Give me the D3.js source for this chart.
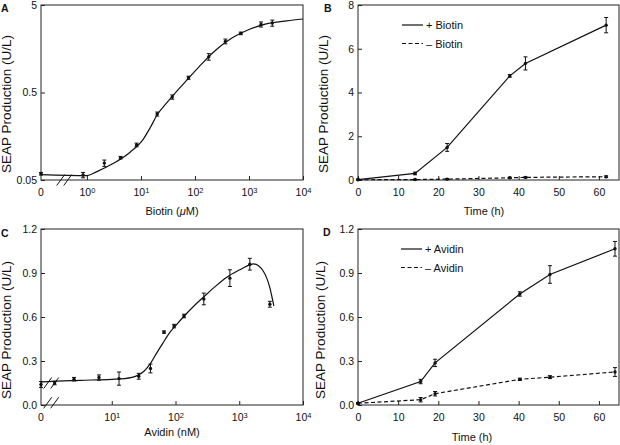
<!DOCTYPE html>
<html><head><meta charset="utf-8">
<script src="https://cdn.jsdelivr.net/npm/d3@7"></script>
<style>
body{margin:0;background:#fff}
svg{display:block}
text{font-family:"Liberation Sans",Arial,sans-serif;fill:#111}
</style>
</head><body>
<svg id="c" width="620" height="445"></svg>
<script>
// ---------- Panel A: SEAP vs biotin (log-log) ----------
const biotinConc   = [0, 0.85, 2.1, 4.2, 8.3, 20, 38, 76, 180, 366, 705, 1670, 2700];
const seapBiotin   = [0.059, 0.057, 0.078, 0.09, 0.126, 0.284, 0.444, 0.738, 1.28, 1.92, 2.37, 3.0, 3.11];
const seapBiotinErr= [0.002, 0.004, 0.0065, 0.003, 0.006, 0.015, 0.025, 0.03, 0.11, 0.12, 0.08, 0.2, 0.25];
const fitBiotinConc= [0, 1, 1.5, 3.1, 6.3, 11, 15, 20, 30, 60, 120, 250, 500, 1000, 2000, 5000, 10000];
const fitBiotinSeap= [0.0575, 0.056, 0.062, 0.0775, 0.104, 0.146, 0.2, 0.278, 0.38, 0.62, 0.99, 1.55, 2.12, 2.62, 3.02, 3.3, 3.46];
const ticksA_x = [1, 10, 100, 1000, 10000];
const ticksA_y = [0.05, 0.5, 5];

// ---------- Panel B: SEAP vs time, +/- biotin ----------
const timeB          = [0, 14.2, 22.2, 37.8, 41.7, 61.8];
const plusBiotin     = [0.02, 0.30, 1.49, 4.76, 5.33, 7.08];
const plusBiotinErr  = [0.02, 0.06, 0.18, 0.06, 0.30, 0.35];
const minusBiotin    = [0.01, 0.02, 0.04, 0.10, 0.12, 0.15];
const minusBiotinErr = [0.01, 0.02, 0.02, 0.03, 0.03, 0.04];
const ticksB_x = [0, 10, 20, 30, 40, 50, 60];
const ticksB_y = [0, 2, 4, 6, 8];

// ---------- Panel C: SEAP vs avidin ----------
const avidinConc   = [0, 1.27, 2.56, 6.3, 13, 26.5, 40.5, 66, 95, 136, 278, 713, 1466, 3020];
const seapAvidin   = [0.14, 0.15, 0.176, 0.187, 0.18, 0.196, 0.249, 0.497, 0.538, 0.607, 0.723, 0.865, 0.96, 0.687];
const seapAvidinErr= [0.02, 0.012, 0.012, 0.018, 0.045, 0.02, 0.03, 0.008, 0.012, 0.012, 0.04, 0.057, 0.04, 0.02];
const fitAvidinConc= [0, 1, 3.16, 10, 16, 25, 32, 40, 50, 63, 80, 100, 136, 200, 282, 400, 630, 1000, 1466, 1660, 2000, 2400, 2700, 3020, 3210, 3490];
const fitAvidinSeap= [0.157, 0.16, 0.168, 0.175, 0.18, 0.2, 0.23, 0.28, 0.35, 0.42, 0.49, 0.54, 0.605, 0.68, 0.74, 0.8, 0.87, 0.92, 0.955, 0.962, 0.95, 0.91, 0.865, 0.8, 0.75, 0.675];
const ticksC_x = [10, 100, 1000, 10000];
const ticksC_y = [0, 0.3, 0.6, 0.9, 1.2];

// ---------- Panel D: SEAP vs time, +/- avidin ----------
const timeD          = [0, 15.6, 19.2, 40.3, 47.8, 64];
const plusAvidin     = [0.012, 0.16, 0.287, 0.757, 0.89, 1.065];
const plusAvidinErr  = [0.005, 0.015, 0.025, 0.015, 0.06, 0.05];
const minusAvidin    = [0.012, 0.036, 0.077, 0.175, 0.19, 0.225];
const minusAvidinErr = [0.005, 0.015, 0.015, 0.008, 0.01, 0.03];
const ticksD_x = [0, 10, 20, 30, 40, 50, 60];
const ticksD_y = [0, 0.3, 0.6, 0.9, 1.2];

// ---------- layout ----------
const boxA = {l:41, r:303, t:5,   b:180};
const boxB = {l:358,r:619, t:5,   b:180};
const boxC = {l:41, r:303, t:229, b:405};
const boxD = {l:358,r:619, t:229, b:405};

const svg = d3.select('#c');
const INK = '#111';

const xA = d3.scaleLog().domain([Math.pow(10,-0.85), 1e4]).range([boxA.l, boxA.r]);
const yA = d3.scaleLog().domain([0.05, 5]).range([boxA.b, boxA.t]);
const xB = d3.scaleLinear().domain([0, 65]).range([boxB.l, boxB.r]);
const yB = d3.scaleLinear().domain([0, 8]).range([boxB.b, boxB.t]);
const xC = d3.scaleLog().domain([Math.pow(10,-0.11), 1e4]).range([boxC.l, boxC.r]);
const yC = d3.scaleLinear().domain([0, 1.2]).range([boxC.b, boxC.t]);
const xD = d3.scaleLinear().domain([0, 65]).range([boxD.l, boxD.r]);
const yD = d3.scaleLinear().domain([0, 1.2]).range([boxD.b, boxD.t]);

// map 0 onto the left edge of a broken log axis
const zx = s => v => v === 0 ? s.range()[0] : s(v);

function frame(box){
  svg.append('rect').attr('x',box.l).attr('y',box.t)
    .attr('width',box.r-box.l).attr('height',box.b-box.t)
    .attr('fill','none').attr('stroke','#222').attr('stroke-width',1);
}

function axes(box, x, y, xticks, yticks, yfmt, xsup){
  const gx = svg.append('g').attr('transform',`translate(0,${box.b})`)
    .call(d3.axisBottom(x).tickValues(xticks).tickSizeInner(-4).tickSizeOuter(0).tickPadding(9)
      .tickFormat(xsup ? (d=>'10') : d3.format('d')));
  gx.select('.domain').remove();
  gx.selectAll('line').attr('stroke','#222');
  gx.selectAll('text').attr('font-size','10.5px').attr('fill',INK)
    .attr('font-family','"Liberation Sans",Arial,sans-serif');
  if (xsup){
    gx.selectAll('text').append('tspan').attr('dy','-0.5em').attr('font-size','7.5px')
      .text(d => Math.round(Math.log10(d)));
  }
  const gy = svg.append('g').attr('transform',`translate(${box.l},0)`)
    .call(d3.axisLeft(y).tickValues(yticks).tickSizeInner(-4).tickSizeOuter(0).tickPadding(4).tickFormat(yfmt));
  gy.select('.domain').remove();
  gy.selectAll('line').attr('stroke','#222');
  gy.selectAll('text').attr('font-size','10.5px').attr('fill',INK)
    .attr('font-family','"Liberation Sans",Arial,sans-serif');
}

function ytitle(x, y){
  svg.append('text').attr('transform',`translate(${x},${y}) rotate(-90)`)
    .attr('text-anchor','middle').attr('font-size','13.5px').text('SEAP Production (U/L)');
}
function panelLetter(t, x, y){
  svg.append('text').attr('x',x).attr('y',y).attr('font-size','10.5px').attr('font-weight','bold').text(t);
}

function errbars(xs, ys, es, fx, fy, cap){
  const g = svg.append('g').attr('stroke',INK).attr('stroke-width',1);
  xs.forEach((xv,i)=>{
    const X = fx(xv), y1 = fy(ys[i]-es[i]), y2 = fy(ys[i]+es[i]);
    g.append('line').attr('x1',X).attr('x2',X).attr('y1',y1).attr('y2',y2);
    g.append('line').attr('x1',X-cap).attr('x2',X+cap).attr('y1',y1).attr('y2',y1);
    g.append('line').attr('x1',X-cap).attr('x2',X+cap).attr('y1',y2).attr('y2',y2);
  });
}
function dots(xs, ys, fx, fy){
  svg.append('g').selectAll('circle').data(xs).join('circle')
    .attr('cx',d=>fx(d)).attr('cy',(d,i)=>fy(ys[i])).attr('r',1.7).attr('fill',INK);
}
function path(xs, ys, fx, fy, curve, dash){
  const line = d3.line().x(d=>fx(d[0])).y(d=>fy(d[1])).curve(curve);
  svg.append('path').attr('d', line(xs.map((v,i)=>[v,ys[i]])))
    .attr('fill','none').attr('stroke',INK).attr('stroke-width',1.2)
    .attr('stroke-dasharray', dash || null);
}
function slashes(cx, cy){
  [-3.5, 3.5].forEach(o=>{
    svg.append('line').attr('x1',cx+o-4).attr('y1',cy+5.5).attr('x2',cx+o+4).attr('y2',cy-5.5)
      .attr('stroke',INK).attr('stroke-width',1);
  });
}
function legend(x, y, gap, labels){
  labels.forEach((lab,i)=>{
    const yy = y + i*gap;
    svg.append('line').attr('x1',x).attr('x2',x+21).attr('y1',yy).attr('y2',yy)
      .attr('stroke',INK).attr('stroke-width',1.2).attr('stroke-dasharray', i ? '4,2.5' : null);
    svg.append('text').attr('x',x+24).attr('y',yy+4).attr('font-size','11px').text(lab);
  });
}

// ===== Panel A =====
const fxA = zx(xA);
frame(boxA);
axes(boxA, xA, yA, ticksA_x, ticksA_y, d=>String(d), true);
svg.append('text').attr('x',xA.range()[0]).attr('y',boxA.b+16).attr('text-anchor','middle')
  .attr('font-size','10.5px').text('0');
path(fitBiotinConc, fitBiotinSeap, fxA, yA, d3.curveMonotoneX);
errbars(biotinConc, seapBiotin, seapBiotinErr, fxA, yA, 2);
dots(biotinConc, seapBiotin, fxA, yA);
slashes(xA(Math.pow(10,-0.42)), yA(0.05));
ytitle(11, 104);
const tA = svg.append('text').attr('x',(boxA.l+boxA.r)/2).attr('y',215).attr('text-anchor','middle').attr('font-size','11px');
tA.append('tspan').text('Biotin (');
tA.append('tspan').attr('font-style','italic').text('μ');
tA.append('tspan').text('M)');
panelLetter('A', 1, 12);

// ===== Panel B =====
frame(boxB);
axes(boxB, xB, yB, ticksB_x, ticksB_y, d3.format('d'), false);
path(timeB, plusBiotin, xB, yB, d3.curveLinear);
path(timeB, minusBiotin, xB, yB, d3.curveLinear, '4,2.5');
errbars(timeB, plusBiotin, plusBiotinErr, xB, yB, 2);
errbars(timeB, minusBiotin, minusBiotinErr, xB, yB, 2);
dots(timeB, plusBiotin, xB, yB);
dots(timeB, minusBiotin, xB, yB);
legend(402, 25, 18.5, ['+ Biotin', '– Biotin']);
ytitle(328, 104);
svg.append('text').attr('x',484).attr('y',215).attr('text-anchor','middle').attr('font-size','11px').text('Time (h)');
panelLetter('B', 324, 12);

// ===== Panel C =====
const fxC = zx(xC);
frame(boxC);
axes(boxC, xC, yC, ticksC_x, ticksC_y, d3.format('.1f'), true);
svg.append('text').attr('x',xC.range()[0]).attr('y',boxC.b+16).attr('text-anchor','middle')
  .attr('font-size','10.5px').text('0');
path(fitAvidinConc, fitAvidinSeap, fxC, yC, d3.curveMonotoneX);
errbars(avidinConc, seapAvidin, seapAvidinErr, fxC, yC, 2);
dots(avidinConc, seapAvidin, fxC, yC);
slashes(xC(Math.pow(10,0.05)), yC(0.15));
slashes(xC(Math.pow(10,0.05)), yC(0.015));
ytitle(11, 330);
svg.append('text').attr('x',(boxC.l+boxC.r)/2).attr('y',436).attr('text-anchor','middle').attr('font-size','11px').text('Avidin (nM)');
panelLetter('C', 1, 237);

// ===== Panel D =====
frame(boxD);
axes(boxD, xD, yD, ticksD_x, ticksD_y, d3.format('.1f'), false);
path(timeD, plusAvidin, xD, yD, d3.curveLinear);
path(timeD, minusAvidin, xD, yD, d3.curveLinear, '4,2.5');
errbars(timeD, plusAvidin, plusAvidinErr, xD, yD, 2);
errbars(timeD, minusAvidin, minusAvidinErr, xD, yD, 2);
dots(timeD, plusAvidin, xD, yD);
dots(timeD, minusAvidin, xD, yD);
legend(401, 249, 18.5, ['+ Avidin', '– Avidin']);
ytitle(325, 330);
svg.append('text').attr('x',472).attr('y',441).attr('text-anchor','middle').attr('font-size','11px').text('Time (h)');
panelLetter('D', 323, 236);
</script>
</body></html>
